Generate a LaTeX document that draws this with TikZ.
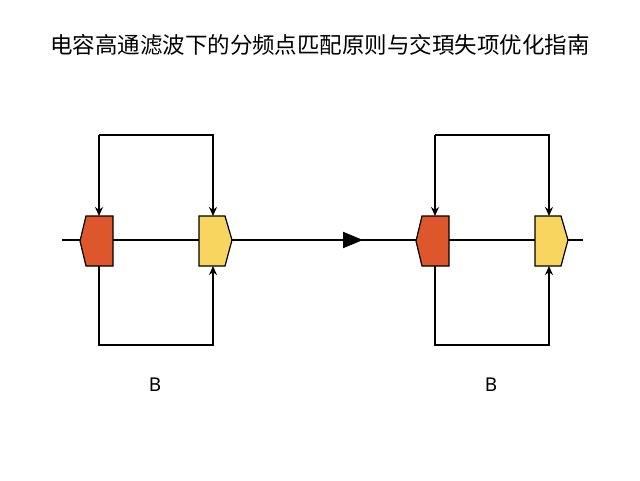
\documentclass[tikz,border=0pt]{standalone}
\usepackage{fontspec}
\setmainfont{Noto Sans}
\newfontfamily\cjk{Noto Sans CJK SC}
\usetikzlibrary{arrows.meta}
\begin{document}
\begin{tikzpicture}[x=1pt,y=-1pt,
  ln/.style={line width=1.6pt,black},
  tip/.style={-{Stealth[length=9pt,width=8pt]}},
  red/.style={draw=black,line width=1.2pt,fill={rgb,255:red,222;green,86;blue,44}},
  yel/.style={draw=black,line width=1.2pt,fill={rgb,255:red,247;green,213;blue,94}}]
\useasboundingbox (0,0) rectangle (640,480);
\node[font=\cjk\fontsize{22.5}{26}\selectfont] (title) at (320,45) {电容高通滤波下的分频点匹配原则与交頊失项优化指南};
\coordinate (s) at (62,240);
\coordinate (e) at (583,240);
\foreach \o/\n in {0/a,336/b}{
  \begin{scope}[xshift=\o]
  \coordinate (\n rt) at (99,216); \coordinate (\n rb) at (99,266);
  \coordinate (\n yt) at (213,216); \coordinate (\n yb) at (213,266);
  \coordinate (\n tl) at (99,135); \coordinate (\n tr) at (213,135);
  \coordinate (\n bl) at (99,345); \coordinate (\n br) at (213,345);
  \end{scope}
}
\draw[ln] (s) -- (e);
\draw[line width=2pt,-{Triangle[length=20pt,width=16pt]}] (232,240) -- (363,240);
\foreach \n in {a,b}{
  \draw[ln,tip] (\n tl) -- (\n rt);
  \draw[ln,tip] (\n tl) -- (\n tr) -- (\n yt);
  \draw[ln,tip] (\n rb) -- (\n bl) -- (\n br) -- (\n yb);
}
\foreach \o/\n in {0/a,336/b}{
  \begin{scope}[xshift=\o]
  \filldraw[red] (86,216) -- (113,216) -- (113,266) -- (86,266) -- (80,241) -- cycle;
  \filldraw[yel] (199,216) -- (225,216) -- (232,240) -- (225,266) -- (199,266) -- cycle;
  \end{scope}
}
\node[font=\fontsize{19}{22}\selectfont] (la) at (155,385) {B};
\node[font=\fontsize{19}{22}\selectfont] (lb) at (491,385) {B};
\end{tikzpicture}
\end{document}
